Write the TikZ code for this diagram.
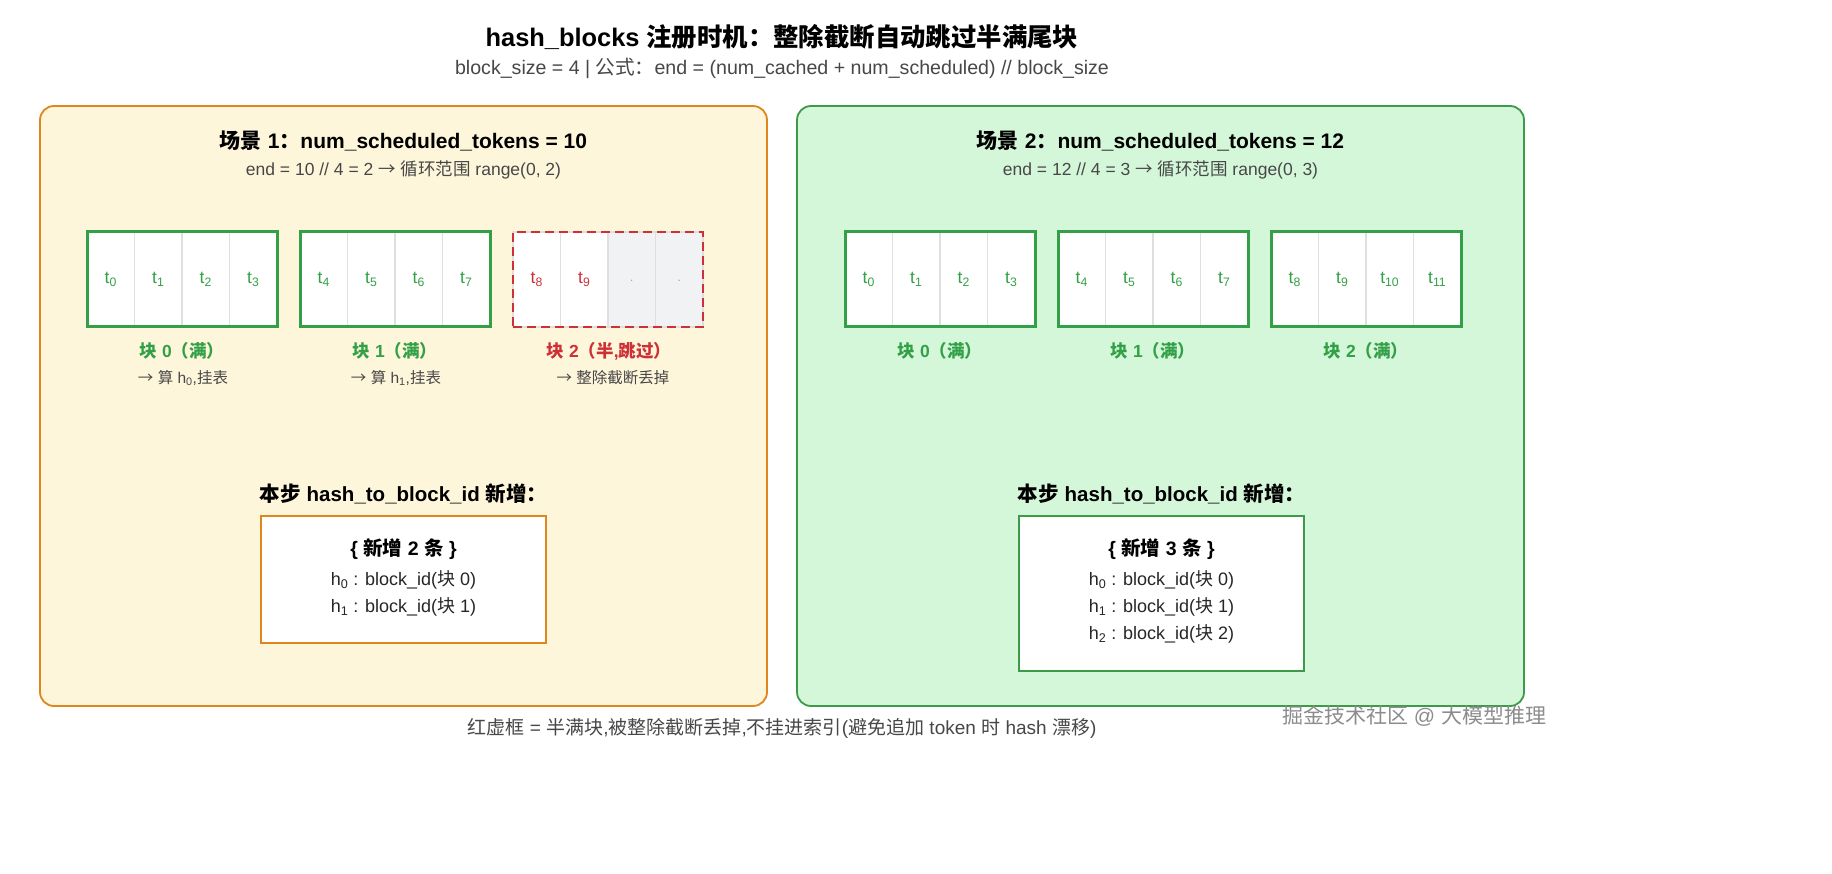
\documentclass[tikz,border=0pt]{standalone}
\usepackage{fontspec}
\setmainfont{Liberation Sans}
\newfontfamily\cjkfont{Noto Sans CJK SC}
\newfontfamily\latinfont{Liberation Sans}
% CJK characters switch to the CJK family on their own
\XeTeXinterchartokenstate=1
\newXeTeXintercharclass\CJKcls
\count255="3000
\loop\XeTeXcharclass\count255=\CJKcls\advance\count255 by 1\ifnum\count255<"3040\repeat
\count255="4E00
\loop\XeTeXcharclass\count255=\CJKcls\advance\count255 by 1\ifnum\count255<"A000\repeat
\count255="FF00
\loop\XeTeXcharclass\count255=\CJKcls\advance\count255 by 1\ifnum\count255<"FFF0\repeat
\XeTeXcharclass"2192=\CJKcls
\XeTeXinterchartoks 0 \CJKcls = {\cjkfont}
\XeTeXinterchartoks 4095 \CJKcls = {\cjkfont}
\XeTeXinterchartoks \CJKcls 0 = {\latinfont}
\XeTeXinterchartoks \CJKcls 4095 = {\latinfont}
\usetikzlibrary{fit}
\definecolor{paneOneFill}{HTML}{FEF6DA}
\definecolor{paneOneLine}{HTML}{E0861C}
\definecolor{paneTwoFill}{HTML}{D4F7D9}
\definecolor{paneTwoLine}{HTML}{3C9A48}
\definecolor{fullGreen}{HTML}{33A047}
\definecolor{halfRed}{HTML}{CD3138}
\definecolor{padCell}{HTML}{F1F2F4}
\colorlet{cellLine}{gray!25}
\colorlet{noteText}{black!72}
\NewDocumentCommand\FS{m}{\fontsize{#1}{#1}\selectfont}
\NewDocumentCommand\DrawBlock{mmm}%
{%
\foreach \k in {0,...,3}{%
\pgfmathtruncatemacro\tok{#3+\k}%
\node[cell] (#1c\k) at ({#2+23.75+47.5*\k},279.5) {t\textsubscript{\tok}};}%
\node[fit=(#1c0)(#1c3),inner sep=0pt,draw=fullGreen,line width=3pt] (#1) {};%
}
\begin{document}
\begin{tikzpicture}[x=1pt,y=-1pt,
  pane/.style={rounded corners=14pt,line width=1.8pt},
  cell/.style={draw=cellLine,line width=1.2pt,fill=white,minimum width=47.5pt,minimum height=95pt,inner sep=0pt,outer sep=0pt,text=fullGreen,font=\FS{17.5}},
  blocklabel/.style={font=\FS{17.5}\bfseries},
  note/.style={text=noteText,font=\FS{15.5}},
  listbox/.style={fill=white,line width=2.4pt,minimum width=285pt,inner sep=0pt},
  listline/.style={text=black!85,font=\FS{18}}]
\useasboundingbox (0,0) rectangle (1832,874);
\fill[white] (0,0) rectangle (1832,874);
\node[font=\FS{25.4}\bfseries] (title) at (782,37) {hash\_blocks 注册时机：整除截断自动跳过半满尾块};
\node[text=noteText,font=\FS{19.6}] (subtitle) at (782,68) {block\_size = 4 | 公式：end = (num\_cached + num\_scheduled) // block\_size};
% scene 1
\draw[pane,fill=paneOneFill,draw=paneOneLine] (40,106) rectangle (767,706);
\node[font=\FS{21}\bfseries] (sceneOne) at (403.5,141) {场景 1：num\_scheduled\_tokens = 10};
\node[text=noteText,font=\FS{17.5}] (sceneOneSub) at (403.5,170) {end = 10 // 4 = 2 → 循环范围 range(0, 2)};
\DrawBlock{blkA}{87}{0}
\DrawBlock{blkB}{300}{4}
\foreach \k/\t in {0/8,1/9}
  \node[cell,text=halfRed] (blkCc\k) at ({513+23.75+47.5*\k},279.5) {t\textsubscript{\t}};
\foreach \k in {2,3}
  \node[cell,fill=padCell,text=gray,font=\FS{10}] (blkCc\k) at ({513+23.75+47.5*\k},279.5) {\raisebox{-8pt}{·}};
\node[fit=(blkCc0)(blkCc3),inner sep=0pt,draw=halfRed,line width=2.6pt,dash pattern=on 9pt off 5pt] (blkC) {};
\node[blocklabel,text=fullGreen] (labA) at (182,351) {块 0（满）};
\node[note] (noteA) at (183,378) {→ 算 h\textsubscript{0},挂表};
\node[blocklabel,text=fullGreen] (labB) at (395,351) {块 1（满）};
\node[note] (noteB) at (396,378) {→ 算 h\textsubscript{1},挂表};
\node[blocklabel,text=halfRed] (labC) at (609,351) {块 2（半,跳过）};
\node[note] (noteC) at (613,378) {→ 整除截断丢掉};
\node[font=\FS{20.5}\bfseries] (stepOne) at (403.5,494) {本步 hash\_to\_block\_id 新增：};
\node[listbox,draw=paneOneLine,minimum height=127pt] (listOne) at (403.5,579.5) {};
\node[font=\FS{19.5}\bfseries] (listOneHead) at (403.5,549) {\{ 新增 2 条 \}};
\node[listline] (listOneA) at (403.5,580) {h\textsubscript{0} : block\_id(块 0)};
\node[listline] (listOneB) at (403.5,607) {h\textsubscript{1} : block\_id(块 1)};
% scene 2
\draw[pane,fill=paneTwoFill,draw=paneTwoLine] (797,106) rectangle (1524,706);
\node[font=\FS{21}\bfseries] (sceneTwo) at (1160.5,141) {场景 2：num\_scheduled\_tokens = 12};
\node[text=noteText,font=\FS{17.5}] (sceneTwoSub) at (1160.5,170) {end = 12 // 4 = 3 → 循环范围 range(0, 3)};
\DrawBlock{blkD}{845}{0}
\DrawBlock{blkE}{1058}{4}
\DrawBlock{blkF}{1271}{8}
\node[blocklabel,text=fullGreen] (labD) at (940,351) {块 0（满）};
\node[blocklabel,text=fullGreen] (labE) at (1153,351) {块 1（满）};
\node[blocklabel,text=fullGreen] (labF) at (1366,351) {块 2（满）};
\node[font=\FS{20.5}\bfseries] (stepTwo) at (1161.5,494) {本步 hash\_to\_block\_id 新增：};
\node[listbox,draw=paneTwoLine,minimum height=155pt] (listTwo) at (1161.5,593.5) {};
\node[font=\FS{19.5}\bfseries] (listTwoHead) at (1161.5,549) {\{ 新增 3 条 \}};
\node[listline] (listTwoA) at (1161.5,580) {h\textsubscript{0} : block\_id(块 0)};
\node[listline] (listTwoB) at (1161.5,607) {h\textsubscript{1} : block\_id(块 1)};
\node[listline] (listTwoC) at (1161.5,634) {h\textsubscript{2} : block\_id(块 2)};
% footer
\node[text=noteText,font=\FS{19}] (footer) at (782,728) {红虚框 = 半满块,被整除截断丢掉,不挂进索引(避免追加 token 时 hash 漂移)};
\node[text=black!45,font=\FS{21}] (mark) at (1414,716) {掘金技术社区 @ 大模型推理};
\end{tikzpicture}
\end{document}
